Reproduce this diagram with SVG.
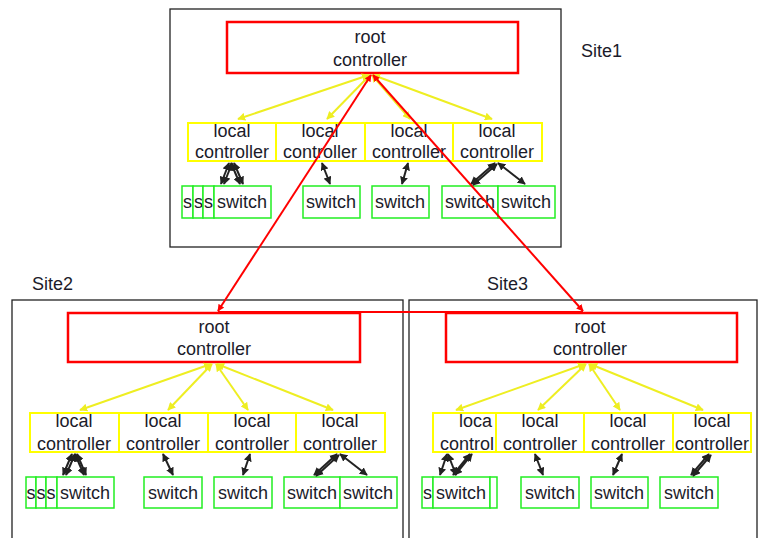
<svg xmlns="http://www.w3.org/2000/svg" width="762" height="538" viewBox="0 0 762 538">
  <style>
    text { font-family: "Liberation Sans", Arial, sans-serif; font-size: 18px; fill: #1b1b2a; text-anchor: middle; }
    .site { fill: #ffffff; stroke: #222222; stroke-width: 1.3; }
    .root { fill: #ffffff; stroke: #ff0000; stroke-width: 2.5; }
    .local { fill: #ffffff; stroke: #ffff00; stroke-width: 2; }
    .sw { fill: #ffffff; stroke: #22ee22; stroke-width: 1.5; }
    .lbl { text-anchor: start; }
    .ylink { stroke: #eeee22; stroke-width: 2; fill: none; marker-start: url(#ya); marker-end: url(#ya); }
    .rlink { stroke: #ff0000; stroke-width: 2; fill: none; marker-start: url(#ra); marker-end: url(#ra); }
    .blink { stroke: #222222; stroke-width: 2; fill: none; marker-start: url(#ba); marker-end: url(#ba); }
  </style>
  <defs>
    <marker id="ya" viewBox="0 0 10 10" refX="9" refY="5" markerWidth="4" markerHeight="4" orient="auto-start-reverse">
      <path d="M0,0 L10,5 L0,10 z" fill="#eeee22"/>
    </marker>
    <marker id="ra" viewBox="0 0 10 10" refX="9" refY="5" markerWidth="3.5" markerHeight="3.5" orient="auto-start-reverse">
      <path d="M0,0 L10,5 L0,10 z" fill="#ff0000"/>
    </marker>
    <marker id="ba" viewBox="0 0 10 10" refX="9" refY="5" markerWidth="4" markerHeight="4" orient="auto-start-reverse">
      <path d="M0,0 L10,5 L0,10 z" fill="#222222"/>
    </marker>
  </defs>

  <rect width="762" height="538" fill="#ffffff"/>

  <!-- site frames -->
  <g id="site1">
    <rect class="site" x="170" y="9" width="391" height="238"/>
    <text class="lbl" x="581" y="57">Site1</text>
  </g>
  <g id="site2">
    <rect class="site" x="12" y="300" width="391" height="250"/>
    <text class="lbl" x="32" y="290">Site2</text>
  </g>
  <g id="site3">
    <rect class="site" x="409" y="300" width="348" height="250"/>
    <text class="lbl" x="487" y="290">Site3</text>
  </g>

  <!-- ===== Site1 nodes ===== -->
  <g id="s1-root">
    <rect class="root" x="227" y="22" width="291" height="51"/>
    <text x="370" y="43">root</text>
    <text x="370" y="66">controller</text>
  </g>
  <g id="s1-lc1"><rect class="local" x="188" y="123" width="88" height="38"/><text x="232" y="137">local</text><text x="232" y="158">controller</text></g>
  <g id="s1-lc2"><rect class="local" x="276" y="123" width="89" height="38"/><text x="320" y="137">local</text><text x="320" y="158">controller</text></g>
  <g id="s1-lc3"><rect class="local" x="365" y="123" width="88" height="38"/><text x="409" y="137">local</text><text x="409" y="158">controller</text></g>
  <g id="s1-lc4"><rect class="local" x="453" y="123" width="89" height="38"/><text x="497" y="137">local</text><text x="497" y="158">controller</text></g>
  <g id="s1-sw-a"><rect class="sw" x="182" y="186" width="11" height="32"/><text class="lbl" x="183" y="208">s</text></g>
  <g id="s1-sw-b"><rect class="sw" x="193" y="186" width="10" height="32"/><text class="lbl" x="194" y="208">s</text></g>
  <g id="s1-sw-c"><rect class="sw" x="203" y="186" width="11" height="32"/><text class="lbl" x="204" y="208">s</text></g>
  <g id="s1-sw-d"><rect class="sw" x="214" y="186" width="57" height="32"/><text x="242" y="208">switch</text></g>
  <g id="s1-sw-e"><rect class="sw" x="303" y="186" width="57" height="32"/><text x="331" y="208">switch</text></g>
  <g id="s1-sw-f"><rect class="sw" x="372" y="186" width="57" height="32"/><text x="400" y="208">switch</text></g>
  <g id="s1-sw-g"><rect class="sw" x="442" y="186" width="56" height="32"/><text x="470" y="208">switch</text></g>
  <g id="s1-sw-h"><rect class="sw" x="498" y="186" width="57" height="32"/><text x="526" y="208">switch</text></g>

  <!-- ===== Site2 nodes ===== -->
  <g id="s2-root">
    <rect class="root" x="68" y="313" width="292" height="49"/>
    <text x="214" y="333">root</text>
    <text x="214" y="355">controller</text>
  </g>
  <g id="s2-lc1"><rect class="local" x="30" y="413" width="89" height="39"/><text x="74" y="427">local</text><text x="74" y="450">controller</text></g>
  <g id="s2-lc2"><rect class="local" x="119" y="413" width="89" height="39"/><text x="163" y="427">local</text><text x="163" y="450">controller</text></g>
  <g id="s2-lc3"><rect class="local" x="208" y="413" width="88" height="39"/><text x="252" y="427">local</text><text x="252" y="450">controller</text></g>
  <g id="s2-lc4"><rect class="local" x="296" y="413" width="89" height="39"/><text x="340" y="427">local</text><text x="340" y="450">controller</text></g>
  <g id="s2-sw-a"><rect class="sw" x="26" y="477" width="10" height="31"/><text class="lbl" x="26.5" y="499">s</text></g>
  <g id="s2-sw-b"><rect class="sw" x="36" y="477" width="10" height="31"/><text class="lbl" x="36.5" y="499">s</text></g>
  <g id="s2-sw-c"><rect class="sw" x="46" y="477" width="11" height="31"/><text class="lbl" x="46.5" y="499">s</text></g>
  <g id="s2-sw-d"><rect class="sw" x="57" y="477" width="57" height="31"/><text x="85" y="499">switch</text></g>
  <g id="s2-sw-e"><rect class="sw" x="144" y="477" width="58" height="31"/><text x="173" y="499">switch</text></g>
  <g id="s2-sw-f"><rect class="sw" x="214" y="477" width="58" height="31"/><text x="243" y="499">switch</text></g>
  <g id="s2-sw-g"><rect class="sw" x="284" y="477" width="56" height="31"/><text x="312" y="499">switch</text></g>
  <g id="s2-sw-h"><rect class="sw" x="340" y="477" width="57" height="31"/><text x="368" y="499">switch</text></g>

  <!-- ===== Site3 nodes ===== -->
  <g id="s3-root">
    <rect class="root" x="446" y="313" width="291" height="49"/>
    <text x="590" y="333">root</text>
    <text x="590" y="355">controller</text>
  </g>
  <g id="s3-lc1"><rect class="local" x="433" y="413" width="63" height="39"/><text class="lbl" x="459" y="427">loca</text><text class="lbl" x="440" y="450">control</text></g>
  <g id="s3-lc2"><rect class="local" x="496" y="413" width="88" height="39"/><text x="540" y="427">local</text><text x="540" y="450">controller</text></g>
  <g id="s3-lc3"><rect class="local" x="584" y="413" width="89" height="39"/><text x="628" y="427">local</text><text x="628" y="450">controller</text></g>
  <g id="s3-lc4"><rect class="local" x="673" y="413" width="78" height="39"/><text x="712" y="427">local</text><text x="712" y="450">controller</text></g>
  <g id="s3-sw-a"><rect class="sw" x="422" y="477" width="11" height="31"/><text class="lbl" x="423" y="499">s</text></g>
  <g id="s3-sw-b"><rect class="sw" x="433" y="477" width="57" height="31"/><text x="461" y="499">switch</text></g>
  <g id="s3-sw-c"><rect class="sw" x="490" y="477" width="7" height="31"/></g>
  <g id="s3-sw-d"><rect class="sw" x="521" y="477" width="58" height="31"/><text x="550" y="499">switch</text></g>
  <g id="s3-sw-e"><rect class="sw" x="591" y="477" width="57" height="31"/><text x="619" y="499">switch</text></g>
  <g id="s3-sw-f"><rect class="sw" x="660" y="477" width="58" height="31"/><text x="689" y="499">switch</text></g>

  <!-- ===== connectors ===== -->
  <g id="connectors">
    <!-- root to local controllers -->
    <line class="ylink" x1="369" y1="75" x2="238" y2="119"/>
    <line class="ylink" x1="370" y1="75" x2="327" y2="119"/>
    <line class="ylink" x1="372" y1="75" x2="410" y2="119"/>
    <line class="ylink" x1="373" y1="75" x2="492" y2="119"/>

    <line class="ylink" x1="211" y1="364" x2="80" y2="410"/>
    <line class="ylink" x1="212" y1="364" x2="168" y2="410"/>
    <line class="ylink" x1="216" y1="364" x2="248" y2="410"/>
    <line class="ylink" x1="217" y1="364" x2="333" y2="410"/>

    <line class="ylink" x1="585" y1="364" x2="456" y2="410"/>
    <line class="ylink" x1="586" y1="364" x2="538" y2="410"/>
    <line class="ylink" x1="589" y1="364" x2="620" y2="410"/>
    <line class="ylink" x1="590" y1="364" x2="703" y2="410"/>

    <!-- local controllers to switches -->
    <line class="blink" x1="229" y1="163" x2="221" y2="184"/>
    <line class="blink" x1="232" y1="163" x2="224" y2="184"/>
    <line class="blink" x1="231" y1="163" x2="240" y2="184"/>
    <line class="blink" x1="234" y1="163" x2="243" y2="184"/>
    <line class="blink" x1="322" y1="163" x2="330" y2="184"/>
    <line class="blink" x1="408" y1="163" x2="402" y2="184"/>
    <line class="blink" x1="495" y1="163" x2="471" y2="184"/>
    <line class="blink" x1="497" y1="164" x2="473" y2="185"/>
    <line class="blink" x1="498" y1="163" x2="525" y2="184"/>

    <line class="blink" x1="72" y1="454" x2="63" y2="475"/>
    <line class="blink" x1="75" y1="454" x2="66" y2="475"/>
    <line class="blink" x1="75" y1="454" x2="84" y2="475"/>
    <line class="blink" x1="77" y1="454" x2="86" y2="475"/>
    <line class="blink" x1="163" y1="454" x2="173" y2="475"/>
    <line class="blink" x1="250" y1="454" x2="243" y2="475"/>
    <line class="blink" x1="337" y1="454" x2="314" y2="475"/>
    <line class="blink" x1="339" y1="455" x2="316" y2="476"/>
    <line class="blink" x1="340" y1="454" x2="367" y2="475"/>

    <line class="blink" x1="447" y1="454" x2="440" y2="475"/>
    <line class="blink" x1="448" y1="454" x2="456" y2="475"/>
    <line class="blink" x1="472" y1="454" x2="455" y2="475"/>
    <line class="blink" x1="470" y1="454" x2="453" y2="475"/>
    <line class="blink" x1="535" y1="454" x2="543" y2="475"/>
    <line class="blink" x1="622" y1="454" x2="613" y2="475"/>
    <line class="blink" x1="709" y1="454" x2="691" y2="475"/>
    <line class="blink" x1="711" y1="455" x2="693" y2="476"/>

    <!-- links between root controllers of the three sites -->
    <line class="rlink" x1="371" y1="75" x2="218" y2="311"/>
    <line class="rlink" x1="373" y1="75" x2="583" y2="311"/>
    <line class="rlink" x1="218" y1="312" x2="583" y2="312" style="marker-start:none;marker-end:none"/>
  </g>
</svg>
